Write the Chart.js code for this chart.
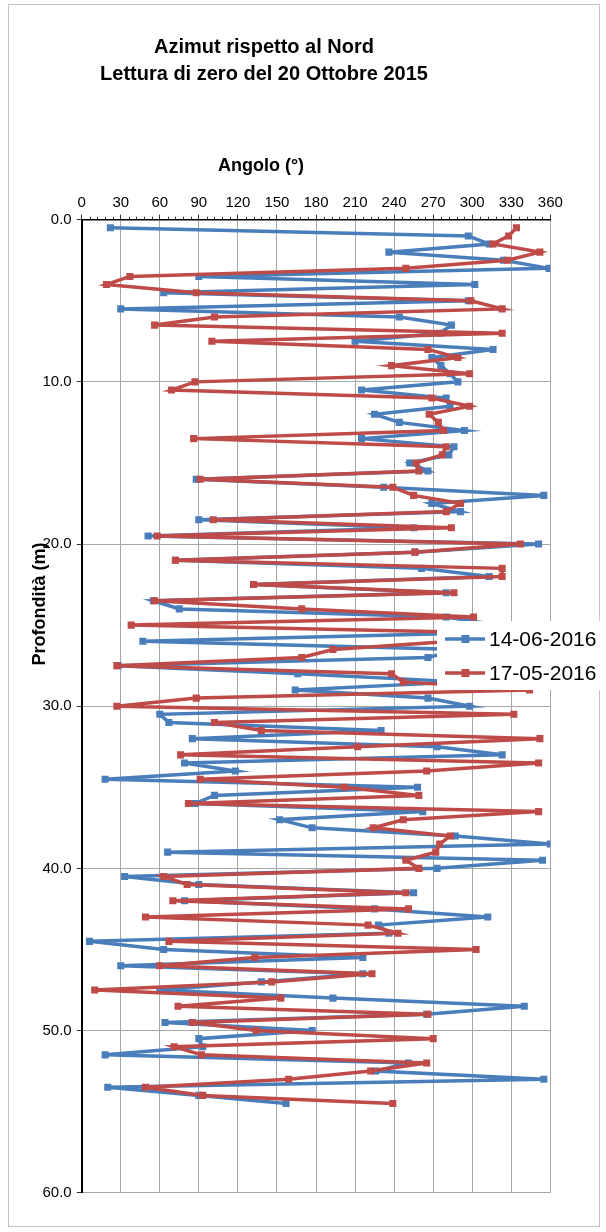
<!DOCTYPE html>
<html>
<head>
<meta charset="utf-8">
<title>Azimut rispetto al Nord</title>
<script src="https://cdn.jsdelivr.net/npm/chart.js@4.4.1/dist/chart.umd.min.js"></script>
<style>
  html, body { margin: 0; padding: 0; background: #fff; }
  #wrap { width: 606px; height: 1232px; }
</style>
</head>
<body>
<div id="wrap"><canvas id="chart" width="606" height="1232"></canvas></div>
<script>
'use strict';

// ── Data ──────────────────────────────────────────────────────
const depths = [
   0.5,  1.0,  1.5,  2.0,  2.5,  3.0,  3.5,  4.0,  4.5,  5.0,
   5.5,  6.0,  6.5,  7.0,  7.5,  8.0,  8.5,  9.0,  9.5, 10.0,
  10.5, 11.0, 11.5, 12.0, 12.5, 13.0, 13.5, 14.0, 14.5, 15.0,
  15.5, 16.0, 16.5, 17.0, 17.5, 18.0, 18.5, 19.0, 19.5, 20.0,
  20.5, 21.0, 21.5, 22.0, 22.5, 23.0, 23.5, 24.0, 24.5, 25.0,
  25.5, 26.0, 26.5, 27.0, 27.5, 28.0, 28.5, 29.0, 29.5, 30.0,
  30.5, 31.0, 31.5, 32.0, 32.5, 33.0, 33.5, 34.0, 34.5, 35.0,
  35.5, 36.0, 36.5, 37.0, 37.5, 38.0, 38.5, 39.0, 39.5, 40.0,
  40.5, 41.0, 41.5, 42.0, 42.5, 43.0, 43.5, 44.0, 44.5, 45.0,
  45.5, 46.0, 46.5, 47.0, 47.5, 48.0, 48.5, 49.0, 49.5, 50.0,
  50.5, 51.0, 51.5, 52.0, 52.5, 53.0, 53.5, 54.0, 54.5
];

// 14-06-2016
const angleJune = [
   22, 297, 313, 236, 324, 359,  90, 302,  63, 297,
   30, 244, 284, 275, 210, 316, 269, 276, 283, 289,
  215, 280, 283, 225, 244, 294, 215, 286, 282, 252,
  266,  88, 232, 355, 269, 291,  90, 255,  51, 351,
  256,  72, 261, 313, 132, 280,  55,  75, 280, 320,
  293,  47, 290, 266,  28, 166, 292, 164, 266, 298,
   60,  67, 230,  85, 273, 323,  79, 118,  18, 258,
  102,  87, 262, 152, 177, 287, 360,  66, 354, 273,
   33,  90, 255,  79, 225, 312, 228, 236,   6,  63,
  216,  30, 216, 138,  60, 193, 340, 265,  64, 177,
   90,  93,  18, 251, 226, 355,  20,  90, 157
];

// 17-05-2016
const angleMay = [
  334, 328, 316, 352, 327, 249,  37,  19,  88, 299,
  323, 102,  56, 323, 100, 266, 289, 238, 298,  87,
   69, 269, 298, 267, 274, 278,  86, 280, 277, 257,
  259,  91, 239, 255, 291, 280, 101, 284,  58, 337,
  256,  72, 323, 323, 132, 286,  56, 169, 301,  38,
  330, 285, 193, 169,  27, 238, 247, 344,  88,  27,
  332, 102, 138, 352, 212,  76, 351, 265,  91, 202,
  259,  82, 351, 247, 224, 283, 275, 272, 249, 259,
   63,  81, 249,  70, 251,  49, 220, 243,  67, 303,
  133,  60, 223, 146,  10, 153,  74, 266,  85, 134,
  270,  71,  92, 265, 222, 159,  49,  93, 239
];

const seriesLabels = ['14-06-2016', '17-05-2016'];
const seriesColors = ['#4a7ebb', '#be4b48'];

const FONT = '"Liberation Sans", Arial, sans-serif';

function toPoints(angles) {
    return angles.map((a, i) => ({ x: a, y: depths[i] }));
}

// ── Decorations ───────────────────────────────────────────────
const framePlugin = {
    id: 'frame',
    beforeDraw(chart) {
        const ctx = chart.ctx;
        ctx.save();
        ctx.fillStyle = '#fff';
        ctx.fillRect(0, 0, chart.width, chart.height);
        ctx.strokeStyle = '#c4c4c4';
        ctx.lineWidth = 1;
        ctx.strokeRect(8.5, 4.5, 591, 1222);
        ctx.restore();
    }
};

const textPlugin = {
    id: 'texts',
    afterDraw(chart) {
        const ctx = chart.ctx;
        ctx.save();
        ctx.fillStyle = '#000';
        ctx.textAlign = 'center';
        ctx.textBaseline = 'middle';
        ctx.font = 'bold 20px ' + FONT;
        ctx.fillText('Azimut rispetto al Nord', 264, 47);
        ctx.fillText('Lettura di zero del 20 Ottobre 2015', 264, 74);
        ctx.font = 'bold 18px ' + FONT;
        ctx.fillText('Angolo (°)', 261, 166);
        ctx.translate(40, 604);
        ctx.rotate(-Math.PI / 2);
        ctx.fillText('Profondità (m)', 0, 0);
        ctx.restore();
    }
};

const minorTickPlugin = {
    id: 'minorTicks',
    afterDraw(chart) {
        const x = chart.scales.x, top = chart.chartArea.top;
        const ctx = chart.ctx;
        ctx.save();
        ctx.strokeStyle = '#333';
        ctx.lineWidth = 1;
        ctx.beginPath();
        for (let v = 6; v < 360; v += 6) {
            if (v % 30 === 0) continue;
            const px = Math.round(x.getPixelForValue(v)) + 0.5;
            ctx.moveTo(px, top - 3);
            ctx.lineTo(px, top);
        }
        ctx.stroke();
        ctx.restore();
    }
};

const legendPlugin = {
    id: 'boxLegend',
    afterDraw(chart) {
        const ctx = chart.ctx;
        ctx.save();
        ctx.fillStyle = '#fff';
        ctx.fillRect(437, 621, 169, 69);
        const rows = [639, 673];
        ctx.font = '21px ' + FONT;
        ctx.textBaseline = 'middle';
        ctx.textAlign = 'left';
        rows.forEach((y, i) => {
            ctx.strokeStyle = seriesColors[i];
            ctx.lineWidth = 3.5;
            ctx.beginPath();
            ctx.moveTo(445, y);
            ctx.lineTo(485, y);
            ctx.stroke();
            ctx.fillStyle = seriesColors[i];
            ctx.fillRect(461.5, y - 4, 8, 8);
            ctx.fillStyle = '#000';
            ctx.fillText(seriesLabels[i], 489, y + 1);
        });
        ctx.restore();
    }
};

// ── Chart ─────────────────────────────────────────────────────
const lineDataset = (label, angles, color, order) => ({
    label,
    data: toPoints(angles),
    showLine: true,
    borderColor: color,
    backgroundColor: color,
    borderWidth: 3.5,
    pointStyle: 'rect',
    pointRadius: 5,
    pointBorderWidth: 0,
    tension: 0,
    order
});

new Chart(document.getElementById('chart').getContext('2d'), {
    type: 'scatter',
    data: {
        datasets: [
            lineDataset(seriesLabels[0], angleJune, seriesColors[0], 2),
            lineDataset(seriesLabels[1], angleMay,  seriesColors[1], 1)
        ]
    },
    options: {
        responsive: false,
        animation: false,
        devicePixelRatio: 1,
        layout: { padding: { top: 0, left: 0, right: 55.7, bottom: 39.3 } },
        plugins: { legend: { display: false }, tooltip: { enabled: false }, title: { display: false } },
        scales: {
            x: {
                type: 'linear',
                position: 'top',
                min: 0, max: 360,
                afterFit: s => { s.height = 219.7; },
                ticks: { stepSize: 30, color: '#000', font: { family: FONT, size: 15 }, padding: 3, maxRotation: 0 },
                grid: { color: '#a6a6a6', lineWidth: 1, tickLength: 5, tickColor: '#333' },
                border: { color: '#000', width: 1.5 }
            },
            y: {
                type: 'linear',
                reverse: true,
                min: 0, max: 60,
                afterFit: s => { s.width = 81.7; },
                ticks: { stepSize: 10, color: '#000', font: { family: FONT, size: 15 }, padding: 5,
                         callback: v => v.toFixed(1) },
                grid: { color: '#a6a6a6', lineWidth: 1, tickLength: 5, tickColor: '#333' },
                border: { color: '#000', width: 2 }
            }
        }
    },
    plugins: [framePlugin, minorTickPlugin, textPlugin, legendPlugin]
});
</script>
</body>
</html>
